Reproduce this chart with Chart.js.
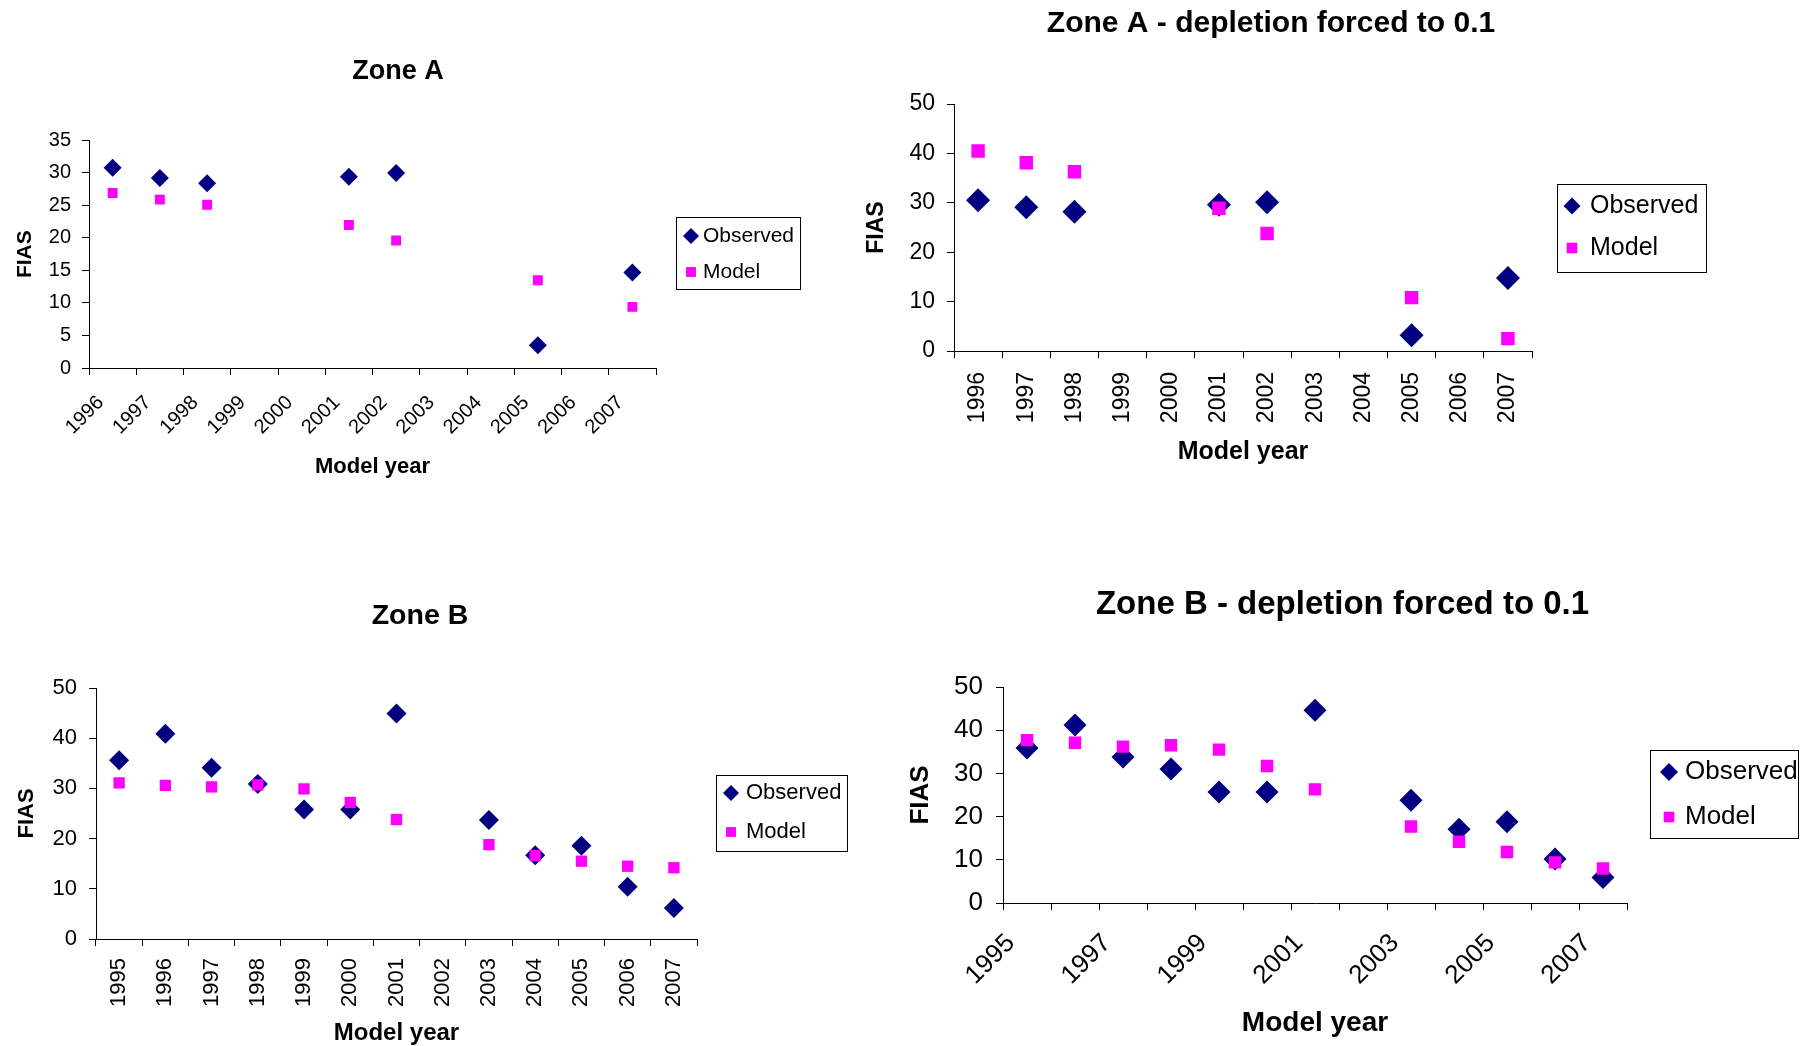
<!DOCTYPE html>
<html>
<head>
<meta charset="utf-8">
<script src="https://cdn.jsdelivr.net/npm/chart.js@4.4.1/dist/chart.umd.min.js"></script>
<style>
html, body { margin: 0; padding: 0; background: #ffffff; width: 1805px; height: 1046px; overflow: hidden; position: relative; }
canvas { position: absolute; display: block; }
</style>
</head>
<body>
<canvas id="c1"></canvas>
<canvas id="c2"></canvas>
<canvas id="c3"></canvas>
<canvas id="c4"></canvas>
<script>
// ---------- data ----------
const yearsA = ['1996', '1997', '1998', '1999', '2000', '2001', '2002', '2003', '2004', '2005', '2006', '2007'];
const yearsB = ['1995', '1996', '1997', '1998', '1999', '2000', '2001', '2002', '2003', '2004', '2005', '2006', '2007'];

const zoneAObserved = [30.8, 29.2, 28.4, null, null, 29.4, 30.0, null, null, 3.5, null, 14.7];
const zoneAModel    = [26.9, 25.9, 25.1, null, null, 22.0, 19.6, null, null, 13.5, null, 9.4];

const zoneADepObserved = [30.5, 29.1, 28.2, null, null, 29.6, 30.1, null, null, 3.2, null, 14.8];
const zoneADepModel    = [40.5, 38.1, 36.3, null, null, 28.9, 23.8, null, null, 10.8, null, 2.5];

const zoneBObserved = [35.6, 40.9, 34.1, 30.9, 25.8, 25.8, 44.9, null, 23.7, 16.7, 18.6, 10.4, 6.2];
const zoneBModel    = [31.1, 30.6, 30.3, 30.7, 29.9, 27.2, 23.8, null, 18.8, 16.6, 15.5, 14.5, 14.2];

const zoneBDepObserved = [35.9, 41.2, 33.8, 31.0, 25.7, 25.7, 44.6, null, 23.8, 17.1, 18.8, 10.2, 5.9];
const zoneBDepModel    = [37.7, 37.1, 36.2, 36.5, 35.5, 31.7, 26.3, null, 17.7, 14.2, 11.8, 9.4, 8.0];

const seriesNames = ['Observed', 'Model'];
const yTicksA = { max: 35, step: 5 };
const yTicksB = { max: 50, step: 10 };

// ---------- styling ----------
const FONT = '"Liberation Sans", Arial, Helvetica, sans-serif';
const NAVY = '#000080';
const MAGENTA = '#FF00FF';
Chart.defaults.font.family = FONT;
Chart.defaults.color = '#000000';

// legend drawn as a bordered box from the chart's own datasets
const boxLegend = {
  id: 'boxLegend',
  afterDraw(chart, args, o) {
    const ctx = chart.ctx;
    const ox = o.originX, oy = o.originY;
    const x0 = Math.round(o.box[0] - ox), y0 = Math.round(o.box[1] - oy);
    const x1 = Math.round(o.box[2] - ox), y1 = Math.round(o.box[3] - oy);
    ctx.save();
    ctx.strokeStyle = '#000000';
    ctx.lineWidth = 1;
    ctx.strokeRect(x0 + 0.5, y0 + 0.5, x1 - x0 - 1, y1 - y0 - 1);
    chart.data.datasets.forEach((ds, i) => {
      const y = o.rows[i] - oy;
      ctx.fillStyle = ds.backgroundColor;
      ctx.strokeStyle = ds.borderColor;
      Chart.helpers.drawPoint(ctx, { pointStyle: ds.pointStyle, radius: o.markerRadius[i], rotation: 0, borderWidth: 0 }, o.markerX - ox, y);
      ctx.fillStyle = '#000000';
      ctx.font = o.fontSize + 'px ' + FONT;
      ctx.textAlign = 'left';
      ctx.textBaseline = 'middle';
      ctx.fillText(ds.label, o.textX - ox, y);
    });
    ctx.restore();
  }
};

function makePanel(cfg) {
  const cv = document.getElementById(cfg.id);
  cv.width = cfg.w; cv.height = cfg.h;
  cv.style.left = cfg.x + 'px'; cv.style.top = cfg.y + 'px';
  cv.style.width = cfg.w + 'px'; cv.style.height = cfg.h + 'px';
  return new Chart(cv, {
    type: 'line',
    data: {
      labels: cfg.labels,
      datasets: [
        { label: seriesNames[0], data: cfg.obs, showLine: false, pointStyle: 'rectRot', pointRadius: cfg.dR,
          backgroundColor: NAVY, borderColor: NAVY, pointBorderWidth: 0, order: 2 },
        { label: seriesNames[1], data: cfg.mod, showLine: false, pointStyle: 'rect', pointRadius: cfg.sR,
          backgroundColor: MAGENTA, borderColor: MAGENTA, pointBorderWidth: 0, order: 1 }
      ]
    },
    options: {
      responsive: false,
      animation: false,
      devicePixelRatio: 1,
      events: [],
      layout: { padding: { left: 0, right: cfg.padR, top: 0, bottom: 0 } },
      plugins: {
        legend: { display: false },
        tooltip: { enabled: false },
        title: {
          display: true, text: cfg.title, color: '#000000',
          font: { size: cfg.titleSize, weight: 'bold', family: FONT },
          padding: { top: cfg.titlePT, bottom: cfg.titlePB }
        },
        boxLegend: {
          originX: cfg.x, originY: cfg.y, box: cfg.lgBox, markerX: cfg.lgMarkerX, markerRadius: cfg.lgMarkerR,
          textX: cfg.lgTextX, rows: cfg.lgRows, fontSize: cfg.lgFont
        }
      },
      scales: {
        x: {
          type: 'category', offset: true,
          grid: { offset: true, drawOnChartArea: false, drawTicks: true, tickLength: 7, color: '#000000', lineWidth: 1 },
          border: { display: true, color: '#000000', width: 1 },
          ticks: {
            autoSkip: false, minRotation: cfg.rot, maxRotation: cfg.rot, padding: cfg.xPad, labelOffset: cfg.xShift,
            font: { size: cfg.xTickSize, family: FONT }, color: '#000000',
            callback: function (v, i) { return (i % cfg.labelEvery === 0) ? this.getLabelForValue(v) : ''; }
          },
          title: { display: true, text: 'Model year', color: '#000000',
                   font: { size: cfg.xTitleSize, weight: 'bold', family: FONT }, padding: { top: 0, bottom: cfg.xTitlePB } },
          afterFit: s => { s.height = cfg.xH; }
        },
        y: {
          type: 'linear', position: 'left', min: 0, max: cfg.yTicks.max,
          grid: { drawOnChartArea: false, drawTicks: true, tickLength: 7, color: '#000000', lineWidth: 1 },
          border: { display: true, color: '#000000', width: 1 },
          ticks: { stepSize: cfg.yTicks.step, padding: cfg.yPad, font: { size: cfg.yTickSize, family: FONT }, color: '#000000' },
          title: { display: true, text: 'FIAS', color: '#000000',
                   font: { size: cfg.yTitleSize, weight: 'bold', family: FONT }, padding: { top: cfg.yTitlePT, bottom: 0 } },
          afterFit: s => { s.width = cfg.yW; }
        },
        yr: {
          type: 'linear', position: 'right', display: true,
          grid: { display: false, drawTicks: false },
          border: { display: false },
          ticks: { display: false },
          afterFit: s => { s.width = cfg.rW; }
        }
      }
    },
    plugins: [boxLegend]
  });
}

makePanel({
  id: 'c1', x: 0, y: 0, w: 810, h: 500, padR: 14,
  labels: yearsA, obs: zoneAObserved, mod: zoneAModel, yTicks: yTicksA,
  title: 'Zone A', titleSize: 27, titlePT: 55.2, titlePB: 52.8,
  rot: 45, labelEvery: 1, xTickSize: 20, xPad: 16, xShift: -12, xTitleSize: 22, xTitlePB: 20, xH: 132,
  yTickSize: 20, yPad: 11, yTitleSize: 21, yTitlePT: 12.4, yW: 89, rW: 140,
  dR: 9, sR: 7,
  lgBox: [676, 217, 801, 290], lgMarkerX: 691, lgMarkerR: [8, 7], lgTextX: 703, lgRows: [236, 272], lgFont: 21
});

makePanel({
  id: 'c2', x: 850, y: 0, w: 870, h: 480, padR: 28,
  labels: yearsA, obs: zoneADepObserved, mod: zoneADepModel, yTicks: yTicksB,
  title: 'Zone A - depletion forced to 0.1', titleSize: 30, titlePT: 5.7, titlePB: 62.3,
  rot: 90, labelEvery: 1, xTickSize: 23, xPad: 14, xShift: 0, xTitleSize: 25, xTitlePB: 13, xH: 129,
  yTickSize: 23, yPad: 12, yTitleSize: 23, yTitlePT: 13.2, yW: 104, rW: 160,
  dR: 12, sR: 9.5,
  lgBox: [1557, 184, 1707, 273], lgMarkerX: 1572, lgMarkerR: [8.5, 7.5], lgTextX: 1590, lgRows: [206, 248], lgFont: 25
});

makePanel({
  id: 'c3', x: 0, y: 540, w: 860, h: 506, padR: 20,
  labels: yearsB, obs: zoneBObserved, mod: zoneBModel, yTicks: yTicksB,
  title: 'Zone B', titleSize: 28.5, titlePT: 59.4, titlePB: 54.4,
  rot: 90, labelEvery: 1, xTickSize: 22, xPad: 12, xShift: 0, xTitleSize: 24, xTitlePB: -2, xH: 107,
  yTickSize: 22, yPad: 12, yTitleSize: 22, yTitlePT: 13.8, yW: 96, rW: 143,
  dR: 10, sR: 8,
  lgBox: [716, 775, 848, 852], lgMarkerX: 731, lgMarkerR: [8, 7], lgTextX: 746, lgRows: [793, 832], lgFont: 22
});

makePanel({
  id: 'c4', x: 880, y: 540, w: 925, h: 506, padR: 0,
  labels: yearsB, obs: zoneBDepObserved, mod: zoneBDepModel, yTicks: yTicksB,
  title: 'Zone B - depletion forced to 0.1', titleSize: 33, titlePT: 44.7, titlePB: 62.7,
  rot: 45, labelEvery: 2, xTickSize: 26, xPad: 18, xShift: -16, xTitleSize: 28, xTitlePB: 6.2, xH: 143,
  yTickSize: 26, yPad: 13, yTitleSize: 26, yTitlePT: 25.4, yW: 123, rW: 178,
  dR: 11.5, sR: 8.8,
  lgBox: [1650, 750, 1799, 839], lgMarkerX: 1669, lgMarkerR: [9, 7.5], lgTextX: 1685, lgRows: [772, 817], lgFont: 26
});
</script>
</body>
</html>
